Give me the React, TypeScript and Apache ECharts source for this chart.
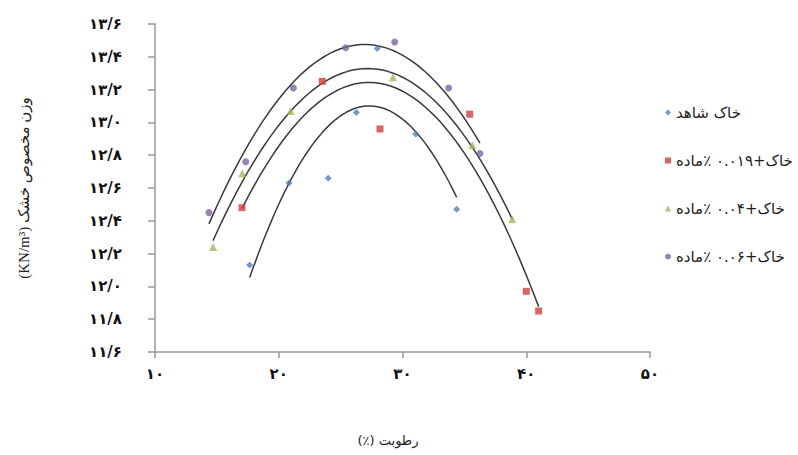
import React, { useEffect, useRef } from "react";
import * as echarts from "echarts";

// ---- data ----
const seriesNames = [
  "خاک شاهد",
  "خاک+۰.۰۱۹ ٪ماده",
  "خاک+۰.۰۴ ٪ماده",
  "خاک+۰.۰۶ ٪ماده",
];
const seriesColors = ["#4F81BD", "#D0403C", "#9BBB59", "#8064A2"];
const seriesSymbols = ["diamond", "rect", "triangle", "circle"];

const controlX = [17.65, 20.83, 24.0, 26.27, 27.96, 31.07, 34.38];
const controlY = [12.13, 12.63, 12.66, 13.06, 13.45, 12.93, 12.47];

const mat019X = [17.03, 23.52, 28.18, 35.43, 40.0, 41.0];
const mat019Y = [12.48, 13.25, 12.96, 13.05, 11.97, 11.85];

const mat04X = [14.69, 17.05, 20.97, 29.23, 35.64, 38.87];
const mat04Y = [12.24, 12.69, 13.07, 13.275, 12.86, 12.41];

const mat06X = [14.36, 17.33, 21.18, 25.41, 29.37, 33.73, 36.26];
const mat06Y = [12.45, 12.76, 13.21, 13.455, 13.49, 13.21, 12.81];

const xTicks = [10, 20, 30, 40, 50];
const yTickMin = 11.6;
const yTickMax = 13.6;
const yTickStep = 0.2;

const xTitle = "رطوبت (٪)";
const yTitle = "وزن مخصوص خشک (KN/m³)";

// ---- helpers ----
const faDigits = "۰۱۲۳۴۵۶۷۸۹";
const fa = (s: string) => s.replace(/\d/g, (d) => faDigits[Number(d)]);
const rtl = (s: string) => "\u202B" + s + "\u202C";

// least-squares quadratic trendline (as the source's polynomial trendline)
function quadFit(xs: number[], ys: number[]) {
  let s0 = 0, s1 = 0, s2 = 0, s3 = 0, s4 = 0, t0 = 0, t1 = 0, t2 = 0;
  for (let i = 0; i < xs.length; i++) {
    const x = xs[i], y = ys[i];
    s0 += 1; s1 += x; s2 += x * x; s3 += x * x * x; s4 += x * x * x * x;
    t0 += y; t1 += x * y; t2 += x * x * y;
  }
  const M = [
    [s4, s3, s2, t2],
    [s3, s2, s1, t1],
    [s2, s1, s0, t0],
  ];
  for (let c = 0; c < 3; c++) {
    let p = c;
    for (let r = c + 1; r < 3; r++) if (Math.abs(M[r][c]) > Math.abs(M[p][c])) p = r;
    [M[c], M[p]] = [M[p], M[c]];
    for (let r = 0; r < 3; r++) {
      if (r === c) continue;
      const f = M[r][c] / M[c][c];
      for (let k = c; k < 4; k++) M[r][k] -= f * M[c][k];
    }
  }
  const a = M[0][3] / M[0][0], b = M[1][3] / M[1][1], cc = M[2][3] / M[2][2];
  const lo = Math.min(...xs), hi = Math.max(...xs);
  const pts: number[][] = [];
  const n = 60;
  for (let i = 0; i <= n; i++) {
    const x = lo + ((hi - lo) * i) / n;
    pts.push([x, a * x * x + b * x + cc]);
  }
  return pts;
}

const groups = [
  [controlX, controlY],
  [mat019X, mat019Y],
  [mat04X, mat04Y],
  [mat06X, mat06Y],
];

export default function App() {
  const ref = useRef<HTMLDivElement>(null);

  useEffect(() => {
    document.body.style.margin = "0";
    if (!ref.current) return;
    const chart = echarts.init(ref.current, undefined, { renderer: "svg" });

    const scatterSeries = groups.map(([xs, ys], i) => ({
      name: seriesNames[i],
      type: "scatter",
      symbol: seriesSymbols[i],
      symbolSize: i === 2 ? 8 : 7,
      itemStyle: { color: seriesColors[i] },
      data: xs.map((x, j) => [x, ys[j]]),
      z: 3,
    }));

    const trendSeries = groups.map(([xs, ys], i) => ({
      name: "trend" + i,
      type: "line",
      data: quadFit(xs, ys),
      showSymbol: false,
      symbol: "none",
      silent: true,
      lineStyle: { color: "#3a3a3a", width: 1.5 },
      z: 2,
    }));

    chart.setOption({
      animation: false,
      backgroundColor: "#ffffff",
      grid: { left: 155, right: 148, top: 24, bottom: 103, containLabel: false },
      legend: {
        data: seriesNames.map((n, i) => ({ name: n, icon: seriesSymbols[i] })),
        orient: "vertical",
        left: 660,
        top: 100,
        itemWidth: 6,
        itemHeight: 6,
        itemGap: 33,
        textStyle: { fontFamily: "DejaVu Sans", fontSize: 15, color: "#222" },
      },
      graphic: [
        {
          type: "text",
          x: 388,
          y: 440,
          style: {
            text: rtl(xTitle),
            fontFamily: "DejaVu Sans",
            fontSize: 13,
            fill: "#222",
            align: "center",
            verticalAlign: "middle",
          },
        },
      ],
      xAxis: {
        type: "value",
        min: xTicks[0],
        max: xTicks[xTicks.length - 1],
        interval: 10,
        axisLine: { show: true, lineStyle: { color: "#9a9a9a", width: 1.5 } },
        axisTick: { show: true, length: 6, lineStyle: { color: "#9a9a9a", width: 1.5 } },
        splitLine: { show: false },
        axisLabel: {
          margin: 14,
          fontFamily: "DejaVu Sans",
          fontWeight: "bold",
          fontSize: 15,
          color: "#111",
          formatter: (v: number) => fa(String(Math.round(v))),
        },
      },
      yAxis: {
        type: "value",
        min: yTickMin,
        max: yTickMax,
        interval: yTickStep,
        name: rtl(yTitle),
        nameLocation: "middle",
        nameGap: 124,
        nameRotate: 90,
        nameTextStyle: { fontFamily: "Liberation Serif, DejaVu Sans", fontSize: 15, color: "#222" },
        axisLine: { show: true, lineStyle: { color: "#9a9a9a", width: 1.5 } },
        axisTick: { show: true, length: 7, lineStyle: { color: "#9a9a9a", width: 1.5 } },
        splitLine: { show: false },
        axisLabel: {
          margin: 33,
          fontFamily: "DejaVu Sans",
          fontWeight: "bold",
          fontSize: 15,
          color: "#111",
          formatter: (v: number) => fa(v.toFixed(1).replace(".", "/")),
        },
      },
      series: [...trendSeries, ...scatterSeries],
    });

    return () => chart.dispose();
  }, []);

  return <div ref={ref} style={{ width: 798, height: 455 }} />;
}
